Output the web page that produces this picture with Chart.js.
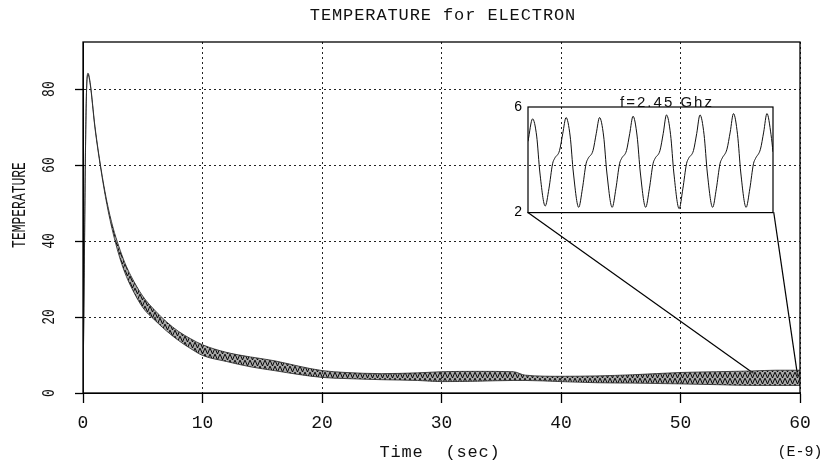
<!DOCTYPE html>
<html>
<head>
<meta charset="utf-8">
<script src="https://cdn.jsdelivr.net/npm/chart.js@4"></script>
<style>
  body { margin: 0; background: #fff; }
  #wrap { position: relative; width: 828px; height: 464px; }
  #main { position: absolute; left: 0; top: 0; }
  #inset { position: absolute; left: 500px; top: 90px; }
</style>
</head>
<body>
<div id="wrap">
  <canvas id="main" width="828" height="464"></canvas>
  <canvas id="inset" width="290" height="137"></canvas>
</div>
<script>
// main curve: time (ns) with the upper / lower edge of the oscillating band
const timeNs   = [0, 0.1, 0.2, 0.3, 0.42, 0.6, 1, 1.5, 2, 2.5, 3, 3.5, 4, 5, 6, 7, 8, 9, 10, 12, 14, 16, 18, 20, 22, 25, 28, 30, 33, 36, 37, 40, 43, 46, 50, 53, 56, 58, 60];
const tempHigh = [0, 30.2, 62.2, 80.2, 84.2, 81.7, 70.2, 59.2, 50.4, 43.7, 38.6, 34.3, 30.9, 25.5, 21.8, 18.7, 16.2, 14.3, 12.7, 10.7, 9.5, 8.5, 7.1, 5.9, 5.4, 5.1, 5.3, 5.6, 5.7, 5.6, 4.7, 4.4, 4.5, 4.8, 5.4, 5.6, 5.8, 6.0, 6.0];
const tempLow  = [0, 29.8, 61.8, 79.8, 83.8, 81.3, 69.8, 58.8, 49.6, 42.3, 36.4, 31.7, 28.1, 22.5, 19.2, 16.3, 13.8, 11.7, 9.9, 8.3, 6.9, 5.9, 4.9, 4.1, 3.8, 3.5, 3.3, 3.0, 3.1, 3.3, 3.3, 3.0, 2.7, 2.6, 2.4, 2.2, 2.0, 2.0, 2.0];

const xTicks = [0, 10, 20, 30, 40, 50, 60];
const yTicks = [0, 20, 40, 60, 80];

// zoom connector lines (main chart data coords)
const zoomLinkLeft  = [[37.2, 47.6], [56.1, 5.2]];
const zoomLinkRight = [[57.8, 47.6], [59.8, 4.5]];

// inset: 2.45 GHz waveform, time in ns inside the zoom window
const insetTime = [0.000, 0.056, 0.106, 0.146, 0.211, 0.256, 0.301, 0.326, 0.386, 0.426,
  0.466, 0.516, 0.556, 0.621, 0.666, 0.711, 0.736, 0.796, 0.836,
  0.876, 0.926, 0.966, 1.031, 1.076, 1.121, 1.146, 1.206, 1.246,
  1.286, 1.336, 1.376, 1.441, 1.486, 1.531, 1.556, 1.616, 1.656,
  1.696, 1.746, 1.786, 1.851, 1.896, 1.941, 1.966, 2.026, 2.066,
  2.106, 2.156, 2.196, 2.261, 2.306, 2.351, 2.376, 2.436, 2.476,
  2.516, 2.566, 2.606, 2.671, 2.716, 2.761, 2.786, 2.846, 2.886,
  2.926, 2.976, 3.000];
const insetTemp = [4.7, 5.55, 4.9, 3.5, 2.25, 2.9, 3.85, 4.05, 4.35, 5.0,
  5.6, 4.9, 3.5, 2.2, 2.9, 3.85, 4.05, 4.35, 5.0,
  5.6, 4.9, 3.5, 2.2, 2.9, 3.85, 4.05, 4.35, 5.0,
  5.65, 4.9, 3.5, 2.2, 2.9, 3.85, 4.05, 4.35, 5.0,
  5.7, 4.95, 3.5, 2.15, 2.9, 3.85, 4.05, 4.35, 5.0,
  5.7, 4.95, 3.5, 2.2, 2.9, 3.85, 4.05, 4.4, 5.05,
  5.75, 4.95, 3.5, 2.2, 2.9, 3.85, 4.05, 4.4, 5.05,
  5.75, 4.95, 4.3];
const insetTicks = [2, 6];

const mono = "'Liberation Mono', 'DejaVu Sans Mono', monospace";

function pts(xs, ys) {
  return xs.map((x, i) => ({ x: x, y: ys[i] }));
}
function pairs(list) {
  return list.map(p => ({ x: p[0], y: p[1] }));
}

// scribbly fill for the oscillation band
function bandPattern() {
  const c = document.createElement('canvas');
  c.width = 5; c.height = 6;
  const g = c.getContext('2d');
  g.fillStyle = 'rgba(100,100,100,0.55)';
  g.fillRect(0, 0, 5, 6);
  g.strokeStyle = 'rgba(0,0,0,0.95)';
  g.lineWidth = 1;
  g.beginPath();
  g.moveTo(0, 0); g.lineTo(2.5, 6); g.lineTo(5, 0);
  g.stroke();
  return g.createPattern(c, 'repeat');
}

// frame + all the typewriter-ish text of the main plot
const frameAndText = {
  id: 'frameAndText',
  afterDraw(chart) {
    const { ctx, chartArea: a, scales } = chart;
    ctx.save();
    ctx.strokeStyle = '#000';
    ctx.lineWidth = 1.3;
    ctx.strokeRect(a.left, a.top, a.right - a.left, a.bottom - a.top);

    ctx.fillStyle = '#111';
    ctx.textAlign = 'center';
    ctx.textBaseline = 'middle';
    ctx.font = '17px ' + mono;
    ctx.letterSpacing = '0.9px';
    ctx.fillText('TEMPERATURE for ELECTRON', 443, 15);

    ctx.font = '18px ' + mono;
    ctx.letterSpacing = '0px';
    xTicks.forEach(v => ctx.fillText(String(v), scales.x.getPixelForValue(v), 423));

    ctx.font = '17px ' + mono;
    ctx.letterSpacing = '0.8px';
    ctx.fillText('Time  (sec)', 440, 452);
    ctx.font = '15px ' + mono;
    ctx.letterSpacing = '0px';
    ctx.fillText('(E-9)', 800, 452);

    // rotated y labels (narrow, tall glyphs)
    ctx.font = '13px ' + mono;
    yTicks.forEach(v => {
      ctx.save();
      ctx.translate(49, scales.y.getPixelForValue(v));
      ctx.rotate(-Math.PI / 2);
      ctx.scale(1, 1.45);
      ctx.fillText(String(v), 0, 0);
      ctx.restore();
    });
    ctx.save();
    ctx.translate(20, 205);
    ctx.rotate(-Math.PI / 2);
    ctx.scale(1, 1.5);
    ctx.fillText('TEMPERATURE', 0, 0);
    ctx.restore();
    ctx.restore();
  }
};

new Chart(document.getElementById('main'), {
  type: 'line',
  data: {
    datasets: [
      { data: pts(timeNs, tempLow), borderColor: '#222', borderWidth: 0.8, pointRadius: 0, fill: false, cubicInterpolationMode: 'monotone' },
      { data: pts(timeNs, tempHigh), borderColor: '#222', borderWidth: 0.8, pointRadius: 0, fill: '-1', backgroundColor: bandPattern(), cubicInterpolationMode: 'monotone' },
      { data: pairs(zoomLinkLeft), borderColor: '#000', borderWidth: 1.2, pointRadius: 0, fill: false },
      { data: pairs(zoomLinkRight), borderColor: '#000', borderWidth: 1.2, pointRadius: 0, fill: false }
    ]
  },
  options: {
    responsive: false,
    animation: false,
    layout: { padding: { left: 0, right: 28, top: 42, bottom: 0 } },
    plugins: { legend: { display: false }, tooltip: { enabled: false } },
    scales: {
      x: {
        type: 'linear', min: 0, max: 60,
        ticks: { stepSize: 10, display: false },
        grid: { color: '#222', lineWidth: 1, tickLength: 10, tickColor: '#000', tickWidth: 1.3, tickBorderDash: [] },
        border: { color: '#000', dash: [2, 3] },
        afterFit(s) { s.height = 71; }
      },
      y: {
        type: 'linear', min: 0, max: 92.4,
        ticks: { stepSize: 20, display: false, includeBounds: false },
        grid: { color: '#222', lineWidth: 1, tickLength: 8, tickColor: '#000', tickWidth: 1.3, tickBorderDash: [] },
        border: { color: '#000', dash: [2, 3] },
        afterFit(s) { s.width = 83; }
      }
    }
  },
  plugins: [frameAndText]
});

const insetFrame = {
  id: 'insetFrame',
  afterDraw(chart) {
    const { ctx, chartArea: a } = chart;
    ctx.save();
    ctx.strokeStyle = '#000';
    ctx.lineWidth = 1.2;
    ctx.strokeRect(a.left, a.top, a.right - a.left, a.bottom - a.top);
    ctx.fillStyle = '#111';
    ctx.font = "15px 'Liberation Sans', Arial, sans-serif";
    ctx.letterSpacing = '2px';
    ctx.textAlign = 'center';
    ctx.textBaseline = 'alphabetic';
    ctx.fillText('f=2.45 Ghz', a.left + 139, a.top - 0.5);
    ctx.restore();
  }
};

new Chart(document.getElementById('inset'), {
  type: 'line',
  data: {
    datasets: [
      { data: pts(insetTime, insetTemp), borderColor: '#111', borderWidth: 1, pointRadius: 0, fill: false, cubicInterpolationMode: 'monotone' }
    ]
  },
  options: {
    responsive: false,
    animation: false,
    layout: { padding: { left: 0, right: 17, top: 17, bottom: 1 } },
    plugins: { legend: { display: false }, tooltip: { enabled: false } },
    scales: {
      x: { type: 'linear', min: 0, max: 3.0, display: false },
      y: {
        type: 'linear', min: 2, max: 6,
        afterBuildTicks(s) { s.ticks = insetTicks.map(v => ({ value: v })); },
        afterFit(s) { s.width = 28; },
        ticks: { font: { family: "'Liberation Sans', Arial, sans-serif", size: 14 }, color: '#000', padding: 6 },
        grid: { display: false, drawTicks: false },
        border: { display: false }
      }
    }
  },
  plugins: [insetFrame]
});
</script>
</body>
</html>
